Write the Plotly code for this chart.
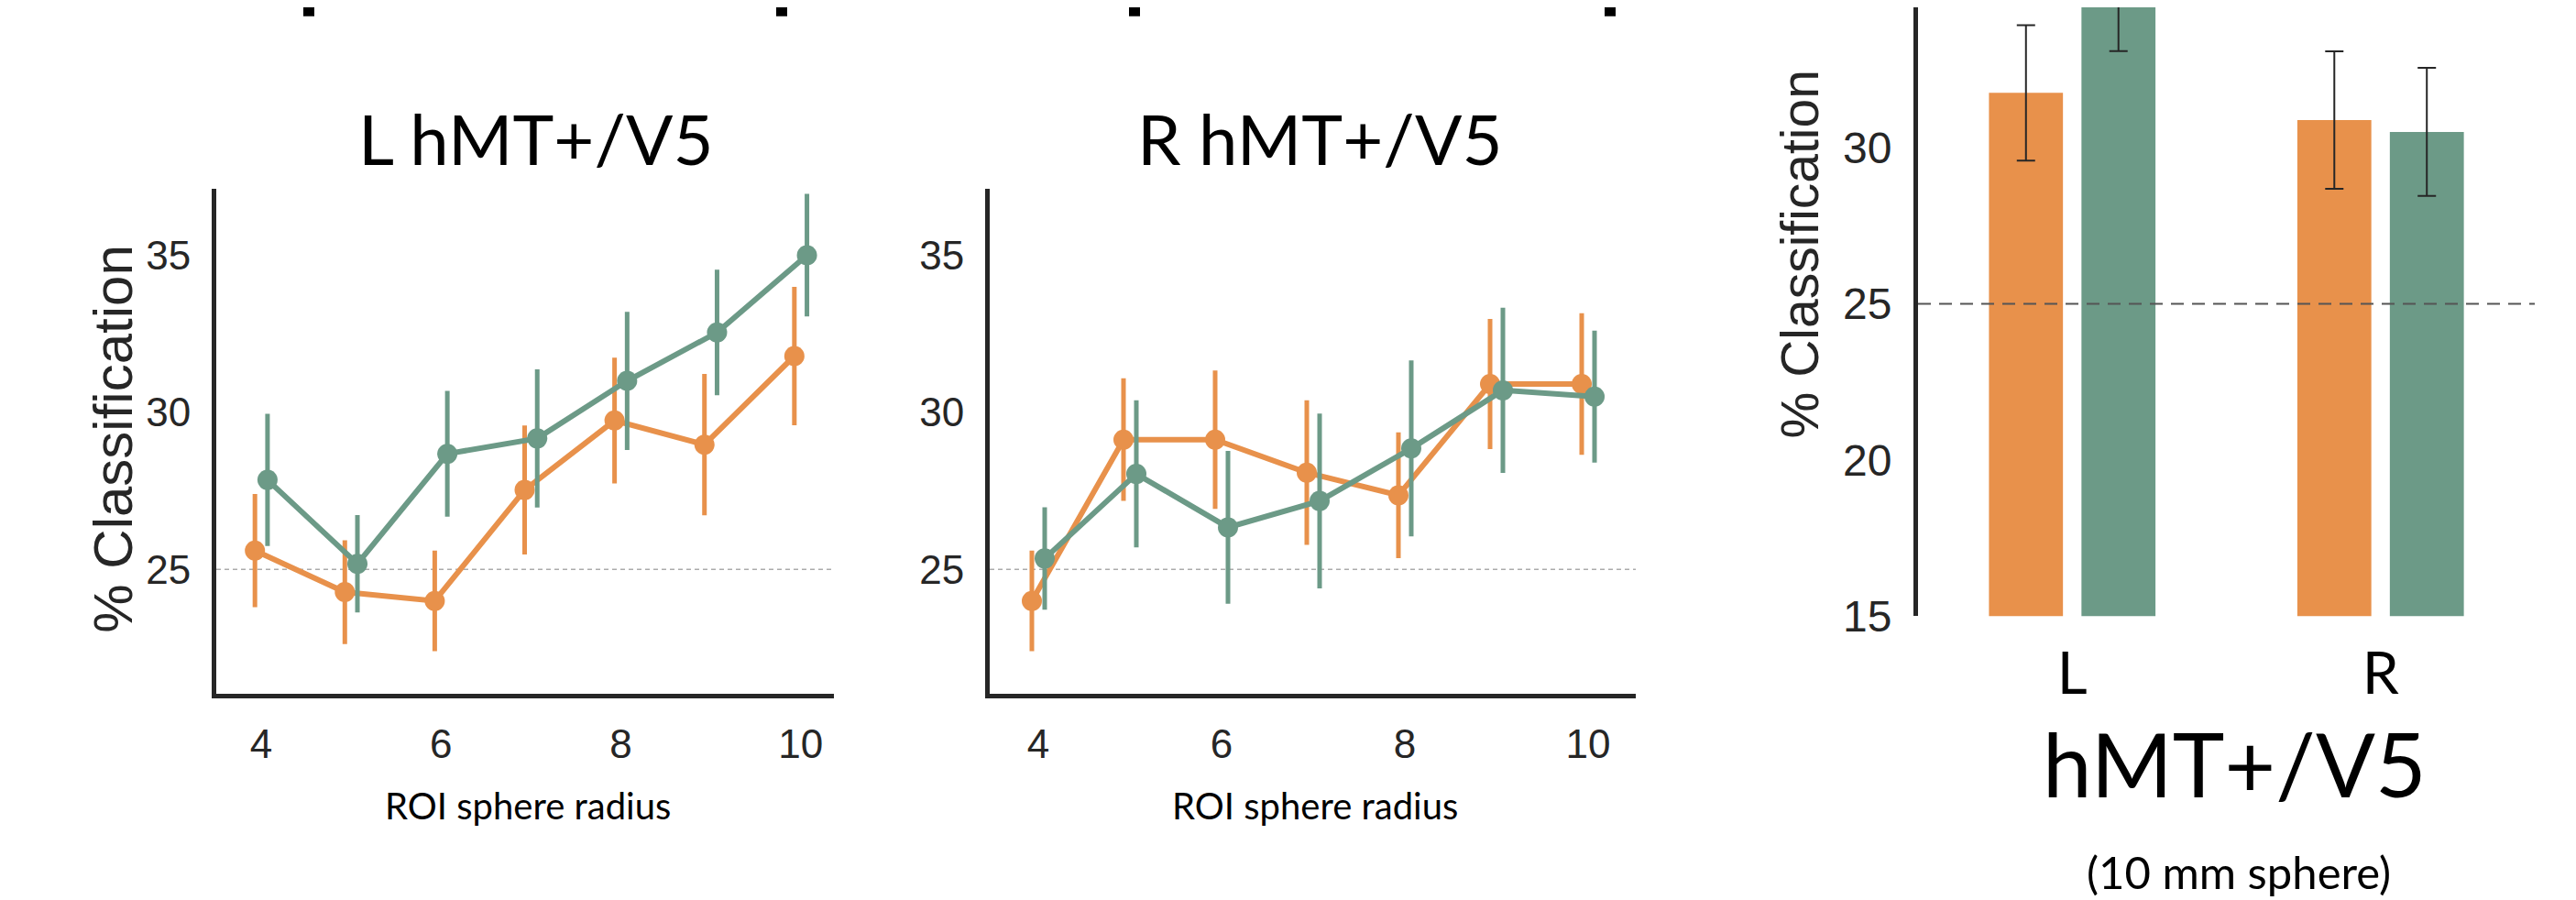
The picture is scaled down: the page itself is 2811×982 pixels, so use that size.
import plotly.graph_objects as go

# ---------------- data ----------------
radius = [4, 5, 6, 7, 8, 9, 10]
x_ticks = [4, 6, 8, 10]

L_orange = [25.6, 24.28, 24.0, 27.53, 29.74, 28.97, 31.79]
L_orange_err = [1.8, 1.65, 1.6, 2.05, 2.0, 2.25, 2.2]
L_green = [27.85, 25.18, 28.68, 29.17, 31.0, 32.54, 35.0]
L_green_err = [2.1, 1.55, 2.0, 2.2, 2.2, 2.0, 1.95]

R_orange = [24.0, 29.13, 29.13, 28.08, 27.36, 30.9, 30.9]
R_orange_err = [1.6, 1.95, 2.2, 2.3, 2.0, 2.07, 2.25]
R_green = [25.35, 28.04, 26.34, 27.18, 28.85, 30.7, 30.5]
R_green_err = [1.63, 2.34, 2.43, 2.78, 2.8, 2.63, 2.1]

hemis = ["L", "R"]
bar_orange = [31.76, 30.89]
bar_orange_err = [2.17, 2.2]
bar_green = [35.0, 30.51]
bar_green_err = [1.9, 2.05]
bar_ticks = [15, 20, 25, 30, 35]

chance = 25

# ---------------- style ----------------
ORANGE = "#E8914B"
GREEN = "#6C9A87"
AXIS = "#262626"
TICK_FONT = "Liberation Sans, Arial, sans-serif"
TEXT_FONT = "Lato, Open Sans, sans-serif"
W, H = 2811, 982
DODGE = 0.07


def px_x(p):
    return p / W


def px_y(p):
    return 1 - p / H


fig = go.Figure()


def add_points(xa, ya, ys, errs, color, shift):
    fig.add_trace(go.Scatter(
        x=[r + shift for r in radius], y=ys,
        mode="lines+markers",
        line=dict(color=color, width=6),
        marker=dict(color=color, size=22),
        error_y=dict(type="data", array=errs, visible=True,
                     color=color, thickness=5, width=0),
        xaxis=xa, yaxis=ya, showlegend=False, hoverinfo="skip",
    ))


add_points("x", "y", L_orange, L_orange_err, ORANGE, -DODGE)
add_points("x", "y", L_green, L_green_err, GREEN, DODGE)
add_points("x2", "y2", R_orange, R_orange_err, ORANGE, -DODGE)
add_points("x2", "y2", R_green, R_green_err, GREEN, DODGE)

fig.add_trace(go.Bar(
    x=hemis, y=bar_orange, marker=dict(color=ORANGE, line=dict(width=0)),
    error_y=dict(type="data", array=bar_orange_err, color=AXIS, thickness=2, width=10),
    xaxis="x3", yaxis="y3", showlegend=False, hoverinfo="skip",
))
fig.add_trace(go.Bar(
    x=hemis, y=bar_green, marker=dict(color=GREEN, line=dict(width=0)),
    error_y=dict(type="data", array=bar_green_err, color=AXIS, thickness=2, width=10),
    xaxis="x3", yaxis="y3", showlegend=False, hoverinfo="skip",
))

line_y_dom = [px_y(770), px_y(204)]

common_x = dict(
    showline=True, linewidth=5, linecolor=AXIS, ticks="", showgrid=False,
    zeroline=False, tickvals=x_ticks,
    tickfont=dict(family=TICK_FONT, size=44, color=AXIS),
    ticklabelstandoff=12,
)
common_y = dict(
    showline=True, linewidth=5, linecolor=AXIS, ticks="", showgrid=False,
    zeroline=False, tickvals=[25, 30, 35], range=[21.05, 37.1],
    tickfont=dict(family=TICK_FONT, size=44, color=AXIS),
    ticklabelstandoff=14,
)

fig.update_layout(
    width=W, height=H,
    margin=dict(l=0, r=0, t=0, b=0),
    paper_bgcolor="white", plot_bgcolor="white",
    barmode="group", bargap=0.4, bargroupgap=0.2,
    xaxis=dict(domain=[px_x(228), px_x(902)], range=[3.5, 10.37], anchor="y", **common_x),
    yaxis=dict(domain=line_y_dom, anchor="x", **common_y),
    xaxis2=dict(domain=[px_x(1072), px_x(1777)], range=[3.47, 10.52], anchor="y2", **common_x),
    yaxis2=dict(domain=line_y_dom, anchor="x2", **common_y),
    xaxis3=dict(domain=[px_x(2085), px_x(2758)], range=[-0.5, 1.5], anchor="y3",
                type="category", showline=False, ticks="", showgrid=False, zeroline=False,
                tickfont=dict(family=TEXT_FONT, size=64, color="black"),
                ticklabelstandoff=20),
    yaxis3=dict(domain=[px_y(683), 1.0], range=[15, 34.5], anchor="x3",
                showline=True, linewidth=5, linecolor=AXIS, ticks="", showgrid=False,
                zeroline=False, tickvals=bar_ticks,
                tickfont=dict(family=TICK_FONT, size=48, color=AXIS),
                ticklabelstandoff=14),
)

# chance lines
for xr, yr in (("x domain", "y"), ("x2 domain", "y2")):
    fig.add_shape(type="line", xref=xr, yref=yr, x0=0, x1=1, y0=chance, y1=chance,
                  line=dict(color="#ababab", width=1.5, dash="5px,4px"), layer="below")
fig.add_shape(type="line", xref="x3 domain", yref="y3", x0=0, x1=1, y0=chance, y1=chance,
              line=dict(color="#555555", width=2, dash="14px,9px"), layer="above")

# bracket fragments at the very top
for cx in (329, 845, 1230, 1749):
    fig.add_shape(type="rect", xref="paper", yref="paper",
                  x0=px_x(cx - 6), x1=px_x(cx + 6), y0=px_y(10), y1=1.0,
                  line=dict(width=0), fillcolor="black")

ann = []


def text(x, y, s, size, family=TEXT_FONT, angle=0, color="black"):
    ann.append(dict(x=px_x(x), y=px_y(y), xref="paper", yref="paper", text=s,
                    showarrow=False, textangle=angle, xanchor="center", yanchor="middle",
                    font=dict(family=family, size=size, color=color)))


text(577, 147, "L hMT+/V5", 76)
text(1432, 147, "R hMT+/V5", 76)
text(568, 896, "ROI sphere radius", 40)
text(1427, 896, "ROI sphere radius", 40)
text(116, 484, "% Classification", 60, family=TICK_FONT, angle=-90, color=AXIS)
text(1956, 277, "% Classification", 57, family=TICK_FONT, angle=-90, color=AXIS)
text(2430, 848, "hMT+/V5", 96)
text(2435, 970, "(10 mm sphere)", 49)

fig.update_layout(annotations=ann)

fig.write_html("out.html")
